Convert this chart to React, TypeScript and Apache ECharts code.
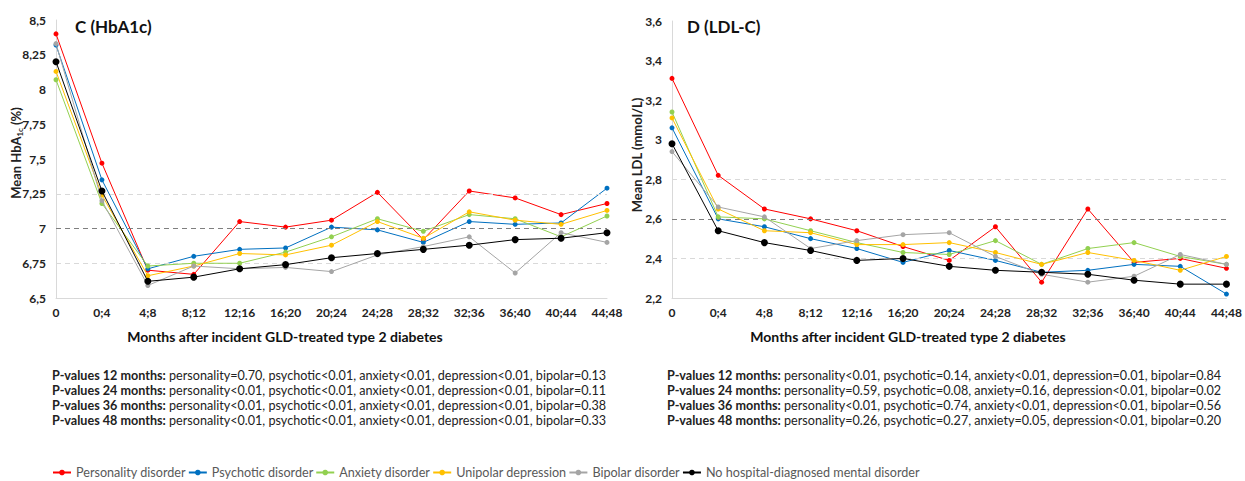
import React, { useEffect, useRef } from "react";
import * as echarts from "echarts";

const categories = ["0", "0;4", "4;8", "8;12", "12;16", "16;20", "20;24", "24;28", "28;32", "32;36", "36;40", "40;44", "44;48"];

const seriesNames = [
  "Personality disorder",
  "Psychotic disorder",
  "Anxiety disorder",
  "Unipolar depression",
  "Bipolar disorder",
  "No hospital-diagnosed mental disorder",
];
const seriesColors = ["#FF0000", "#0070C0", "#92D050", "#FFC000", "#A5A5A5", "#000000"];

// Panel C: HbA1c (%)
const hba1cPersonality = [8.40, 7.47, 6.70, 6.67, 7.05, 7.01, 7.06, 7.26, 6.92, 7.27, 7.22, 7.10, 7.18];
const hba1cPsychotic = [8.32, 7.35, 6.71, 6.80, 6.85, 6.86, 7.01, 6.99, 6.90, 7.05, 7.03, 7.04, 7.29];
const hba1cAnxiety = [8.07, 7.18, 6.73, 6.75, 6.75, 6.83, 6.94, 7.07, 6.98, 7.10, 7.07, 6.94, 7.09];
const hba1cDepression = [8.13, 7.24, 6.66, 6.73, 6.82, 6.81, 6.88, 7.05, 6.93, 7.12, 7.06, 7.03, 7.13];
const hba1cBipolar = [8.33, 7.20, 6.59, 6.73, 6.71, 6.72, 6.69, 6.81, 6.87, 6.94, 6.68, 6.97, 6.90];
const hba1cNone = [8.20, 7.27, 6.62, 6.65, 6.71, 6.74, 6.79, 6.82, 6.85, 6.88, 6.92, 6.93, 6.97];

// Panel D: LDL-C (mmol/L)
const ldlPersonality = [3.31, 2.82, 2.65, 2.60, 2.54, 2.46, 2.39, 2.56, 2.28, 2.65, 2.38, 2.40, 2.35];
const ldlPsychotic = [3.06, 2.60, 2.56, 2.50, 2.45, 2.38, 2.44, 2.39, 2.33, 2.34, 2.37, 2.36, 2.22];
const ldlAnxiety = [3.14, 2.61, 2.60, 2.54, 2.48, 2.43, 2.42, 2.49, 2.37, 2.45, 2.48, 2.41, 2.37];
const ldlDepression = [3.11, 2.65, 2.54, 2.53, 2.47, 2.47, 2.48, 2.43, 2.37, 2.43, 2.39, 2.34, 2.41];
const ldlBipolar = [2.94, 2.66, 2.61, 2.45, 2.49, 2.52, 2.53, 2.41, 2.32, 2.28, 2.31, 2.42, 2.37];
const ldlNone = [2.98, 2.54, 2.48, 2.44, 2.39, 2.40, 2.36, 2.34, 2.33, 2.32, 2.29, 2.27, 2.27];

const hba1cRefLines = [7.25, 7, 6.75];
const ldlRefLines = [2.8, 2.6, 2.4];
const hba1cMainRef = 7;
const ldlMainRef = 2.6;

const pValuesC = [
  ["P-values 12 months:", "personality=0.70, psychotic<0.01, anxiety<0.01, depression<0.01, bipolar=0.13"],
  ["P-values 24 months:", "personality<0.01, psychotic<0.01, anxiety<0.01, depression<0.01, bipolar=0.11"],
  ["P-values 36 months:", "personality<0.01, psychotic<0.01, anxiety<0.01, depression<0.01, bipolar=0.38"],
  ["P-values 48 months:", "personality<0.01, psychotic<0.01, anxiety<0.01, depression<0.01, bipolar=0.33"],
];
const pValuesD = [
  ["P-values 12 months:", "personality<0.01, psychotic=0.14, anxiety<0.01, depression=0.01, bipolar=0.84"],
  ["P-values 24 months:", "personality=0.59, psychotic=0.08, anxiety=0.16, depression<0.01, bipolar=0.02"],
  ["P-values 36 months:", "personality<0.01, psychotic=0.74, anxiety<0.01, depression<0.01, bipolar=0.56"],
  ["P-values 48 months:", "personality=0.26, psychotic=0.27, anxiety=0.05, depression<0.01, bipolar=0.20"],
];

const FONT = "Lato";
const xTitle = "Months after incident GLD-treated type 2 diabetes";

export default function App() {
  const ref = useRef<HTMLDivElement>(null);

  useEffect(() => {
    if (!ref.current) return;
    const chart = echarts.init(ref.current, null, { renderer: "svg" });

    const hbData = [hba1cPersonality, hba1cPsychotic, hba1cAnxiety, hba1cDepression, hba1cBipolar, hba1cNone];
    const ldlData = [ldlPersonality, ldlPsychotic, ldlAnxiety, ldlDepression, ldlBipolar, ldlNone];

    const refMark = (vals: number[], main: number) => ({
      silent: true,
      symbol: ["none", "none"],
      label: { show: false },
      animation: false,
      data: vals.map((v) => ({
        yAxis: v,
        lineStyle: {
          color: v === main ? "#7F7F7F" : "#D9D9D9",
          type: [5, 4],
          width: 1.2,
        },
      })),
    });

    const makeSeries = (data: number[][], idx: number, vals: number[], main: number) =>
      data.map((d, i) => ({
        name: seriesNames[i],
        type: "line",
        xAxisIndex: idx,
        yAxisIndex: idx,
        data: d,
        symbol: "circle",
        symbolSize: i === 5 ? 7 : 5,
        showSymbol: true,
        itemStyle: { color: seriesColors[i] },
        lineStyle: { color: seriesColors[i], width: 1 },
        z: 3 + i,
        markLine: i === 0 ? refMark(vals, main) : undefined,
      }));

    const fmt = (v: number) => String(+v.toFixed(2)).replace(".", ",");

    const xAxisBase = {
      type: "category",
      data: categories,
      boundaryGap: false,
      axisLine: { lineStyle: { color: "#D9D9D9", width: 1 } },
      axisTick: { show: false },
      splitLine: { show: false },
      axisLabel: {
        interval: 0,
        color: "#222",
        fontFamily: FONT,
        fontWeight: "bold",
        fontSize: 12,
        margin: 8,
      },
    };
    const yAxisBase = {
      type: "value",
      axisLine: { show: true, lineStyle: { color: "#D9D9D9", width: 1 } },
      axisTick: { show: false },
      splitLine: { show: false },
      axisLabel: {
        color: "#222",
        fontFamily: FONT,
        fontWeight: "bold",
        fontSize: 12,
        margin: 10,
        formatter: fmt,
      },
    };

    const pText = (rows: string[][], x: number) =>
      rows.map((r, i) => ({
        type: "text",
        left: x,
        top: 369 + i * 15,
        style: {
          text: `{b|${r[0]}} ${r[1]}`,
          fontFamily: FONT,
          fontSize: 12.6,
          fill: "#222",
          rich: {
            b: { fontFamily: FONT, fontSize: 12.6, fontWeight: "bold", fill: "#222" },
          },
        },
      }));

    chart.setOption({
      animation: false,
      backgroundColor: "#fff",
      grid: [
        { left: 56, top: 20, width: 551, height: 278, containLabel: false },
        { left: 672, top: 21, width: 555, height: 277, containLabel: false },
      ],
      xAxis: [
        { ...xAxisBase, gridIndex: 0 },
        { ...xAxisBase, gridIndex: 1 },
      ],
      yAxis: [
        { ...yAxisBase, gridIndex: 0, min: 6.5, max: 8.5, interval: 0.25 },
        { ...yAxisBase, gridIndex: 1, min: 2.2, max: 3.6, interval: 0.2 },
      ],
      legend: {
        left: 47,
        top: 461,
        padding: 5,
        itemWidth: 18,
        itemHeight: 7,
        itemGap: 2,
        data: seriesNames,
        textStyle: { fontFamily: FONT, fontSize: 12.6, color: "#595959" },
      },
      series: [...makeSeries(hbData, 0, hba1cRefLines, hba1cMainRef), ...makeSeries(ldlData, 1, ldlRefLines, ldlMainRef)],
      graphic: [
        {
          type: "text",
          x: 75,
          y: 26,
          style: { text: "C (HbA1c)", fontFamily: FONT, fontSize: 17, fontWeight: "bold", fill: "#111", align: "left", verticalAlign: "middle" },
        },
        {
          type: "text",
          x: 687,
          y: 26,
          style: { text: "D (LDL-C)", fontFamily: FONT, fontSize: 17, fontWeight: "bold", fill: "#111", align: "left", verticalAlign: "middle" },
        },
        {
          type: "text",
          x: 16,
          y: 153,
          rotation: Math.PI / 2,
          style: {
            text: "{a|Mean HbA}{s|1c}{a| (%)}",
            fill: "#222",
            align: "center",
            verticalAlign: "middle",
            rich: {
              a: { fontFamily: FONT, fontSize: 13, fontWeight: "bold", fill: "#222", lineHeight: 16, verticalAlign: "middle" },
              s: { fontFamily: FONT, fontSize: 8, fontWeight: "bold", fill: "#222", lineHeight: 10, verticalAlign: "bottom" },
            },
          },
        },
        {
          type: "text",
          x: 637,
          y: 155,
          rotation: Math.PI / 2,
          style: {
            text: "Mean LDL (mmol/L)",
            fontFamily: FONT,
            fontSize: 13,
            fontWeight: "bold",
            fill: "#222",
            align: "center",
            verticalAlign: "middle",
          },
        },
        {
          type: "text",
          x: 285,
          y: 336,
          style: { text: xTitle, fontFamily: FONT, fontSize: 14, fontWeight: "bold", fill: "#111", align: "center", verticalAlign: "middle" },
        },
        {
          type: "text",
          x: 908,
          y: 336,
          style: { text: xTitle, fontFamily: FONT, fontSize: 14, fontWeight: "bold", fill: "#111", align: "center", verticalAlign: "middle" },
        },
        ...pText(pValuesC, 52),
        ...pText(pValuesD, 667),
      ],
    });

    return () => chart.dispose();
  }, []);

  return <div ref={ref} style={{ position: "absolute", left: 0, top: 0, width: 1245, height: 481 }} />;
}
